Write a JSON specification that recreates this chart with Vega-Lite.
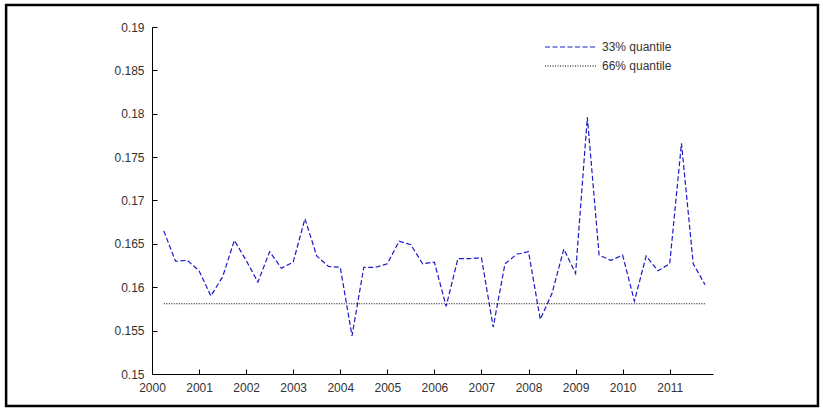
{
  "$schema": "https://vega.github.io/schema/vega-lite/v6.json",
  "width": 561,
  "height": 347,
  "autosize": "none",
  "padding": {"left": 152, "top": 27, "right": 110, "bottom": 38},
  "background": "white",
  "config": {
    "view": {"stroke": null},
    "axis": {
      "grid": false,
      "domainColor": "black",
      "domainWidth": 1,
      "tickColor": "black",
      "labelFont": "Liberation Sans",
      "labelFontSize": 12,
      "labelColor": "#333333",
      "labelFlush": false,
      "title": null
    },
    "legend": {
      "labelFont": "Liberation Sans",
      "labelFontSize": 12,
      "labelColor": "#333333",
      "padding": 0
    }
  },
  "datasets": {
    "q": [
      {"year": 2000.25, "value": 0.1665, "series": "33% quantile"},
      {"year": 2000.5, "value": 0.1630, "series": "33% quantile"},
      {"year": 2000.75, "value": 0.1631, "series": "33% quantile"},
      {"year": 2001.0, "value": 0.1619, "series": "33% quantile"},
      {"year": 2001.25, "value": 0.1590, "series": "33% quantile"},
      {"year": 2001.5, "value": 0.1612, "series": "33% quantile"},
      {"year": 2001.75, "value": 0.1654, "series": "33% quantile"},
      {"year": 2002.0, "value": 0.1631, "series": "33% quantile"},
      {"year": 2002.25, "value": 0.1606, "series": "33% quantile"},
      {"year": 2002.5, "value": 0.1641, "series": "33% quantile"},
      {"year": 2002.75, "value": 0.1622, "series": "33% quantile"},
      {"year": 2003.0, "value": 0.1629, "series": "33% quantile"},
      {"year": 2003.25, "value": 0.1679, "series": "33% quantile"},
      {"year": 2003.5, "value": 0.1636, "series": "33% quantile"},
      {"year": 2003.75, "value": 0.1624, "series": "33% quantile"},
      {"year": 2004.0, "value": 0.1623, "series": "33% quantile"},
      {"year": 2004.25, "value": 0.1544, "series": "33% quantile"},
      {"year": 2004.5, "value": 0.1623, "series": "33% quantile"},
      {"year": 2004.75, "value": 0.1623, "series": "33% quantile"},
      {"year": 2005.0, "value": 0.1627, "series": "33% quantile"},
      {"year": 2005.25, "value": 0.1653, "series": "33% quantile"},
      {"year": 2005.5, "value": 0.1649, "series": "33% quantile"},
      {"year": 2005.75, "value": 0.1627, "series": "33% quantile"},
      {"year": 2006.0, "value": 0.1629, "series": "33% quantile"},
      {"year": 2006.25, "value": 0.1578, "series": "33% quantile"},
      {"year": 2006.5, "value": 0.1633, "series": "33% quantile"},
      {"year": 2006.75, "value": 0.1633, "series": "33% quantile"},
      {"year": 2007.0, "value": 0.1634, "series": "33% quantile"},
      {"year": 2007.25, "value": 0.1554, "series": "33% quantile"},
      {"year": 2007.5, "value": 0.1627, "series": "33% quantile"},
      {"year": 2007.75, "value": 0.1638, "series": "33% quantile"},
      {"year": 2008.0, "value": 0.1641, "series": "33% quantile"},
      {"year": 2008.25, "value": 0.1563, "series": "33% quantile"},
      {"year": 2008.5, "value": 0.1593, "series": "33% quantile"},
      {"year": 2008.75, "value": 0.1644, "series": "33% quantile"},
      {"year": 2009.0, "value": 0.1616, "series": "33% quantile"},
      {"year": 2009.25, "value": 0.1796, "series": "33% quantile"},
      {"year": 2009.5, "value": 0.1637, "series": "33% quantile"},
      {"year": 2009.75, "value": 0.1631, "series": "33% quantile"},
      {"year": 2010.0, "value": 0.1637, "series": "33% quantile"},
      {"year": 2010.25, "value": 0.1584, "series": "33% quantile"},
      {"year": 2010.5, "value": 0.1636, "series": "33% quantile"},
      {"year": 2010.75, "value": 0.1619, "series": "33% quantile"},
      {"year": 2011.0, "value": 0.1627, "series": "33% quantile"},
      {"year": 2011.25, "value": 0.1766, "series": "33% quantile"},
      {"year": 2011.5, "value": 0.1627, "series": "33% quantile"},
      {"year": 2011.75, "value": 0.1603, "series": "33% quantile"},
      {"year": 2000.25, "value": 0.1581, "series": "66% quantile"},
      {"year": 2011.75, "value": 0.1581, "series": "66% quantile"}
    ]
  },
  "layer": [
    {
      "data": {"values": [{}]},
      "mark": {"type": "rect", "fill": null, "stroke": "black", "strokeWidth": 2.5, "clip": false},
      "encoding": {
        "x": {"datum": 1996.9, "type": "quantitative"},
        "x2": {"datum": 2014.15},
        "y": {"datum": 0.19254, "type": "quantitative"},
        "y2": {"datum": 0.14631}
      }
    },
    {
      "data": {"name": "q"},
      "mark": {"type": "line", "strokeWidth": 1.2},
      "encoding": {
        "x": {
          "field": "year",
          "type": "quantitative",
          "scale": {"domain": [2000, 2011.92], "nice": false, "zero": false},
          "axis": {
            "values": [2000, 2001, 2002, 2003, 2004, 2005, 2006, 2007, 2008, 2009, 2010, 2011],
            "format": "d",
            "tickSize": -5,
            "labelPadding": 13
          }
        },
        "y": {
          "field": "value",
          "type": "quantitative",
          "scale": {"domain": [0.15, 0.19], "nice": false, "zero": false},
          "axis": {
            "values": [0.15, 0.155, 0.16, 0.165, 0.17, 0.175, 0.18, 0.185, 0.19],
            "format": ".3~f",
            "tickSize": -5,
            "labelPadding": 13
          }
        },
        "color": {
          "field": "series",
          "type": "nominal",
          "scale": {"domain": ["33% quantile", "66% quantile"], "range": ["#1a1ac8", "#000000"]},
          "legend": {
            "title": null,
            "orient": "none",
            "legendX": 433,
            "legendY": 14,
            "symbolType": "M-9.2,0H1.2",
            "symbolSize": 100,
            "symbolStrokeWidth": 1.2,
            "labelOffset": 5,
            "rowPadding": 7
          }
        },
        "strokeDash": {
          "field": "series",
          "type": "nominal",
          "scale": {"domain": ["33% quantile", "66% quantile"], "range": [[5, 2.5], [1, 1.5]]},
          "legend": {
            "title": null,
            "orient": "none",
            "legendX": 433,
            "legendY": 14,
            "symbolType": "M-9.2,0H1.2",
            "symbolSize": 100,
            "symbolStrokeWidth": 1.2,
            "labelOffset": 5,
            "rowPadding": 7
          }
        }
      }
    }
  ]
}
